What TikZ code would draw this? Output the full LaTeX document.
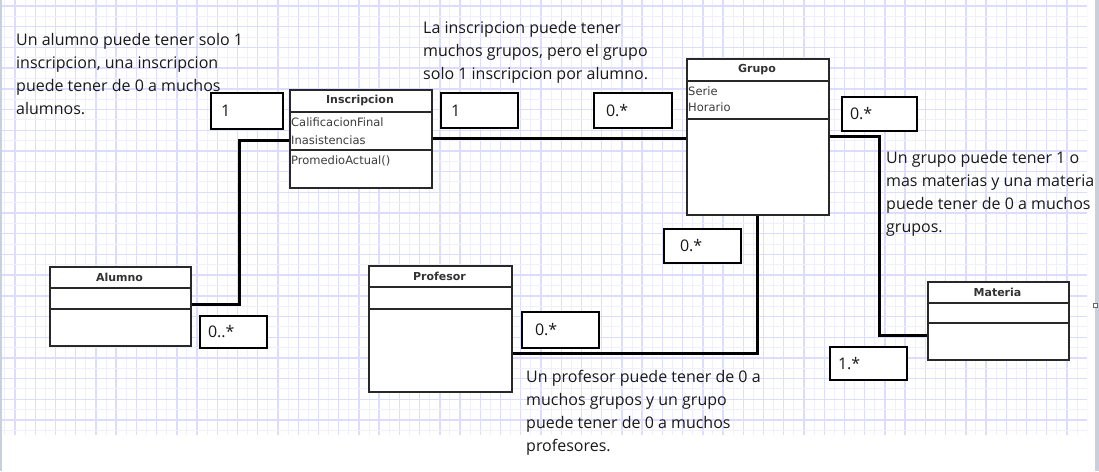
\documentclass[tikz,border=0pt]{standalone}
\usepackage{fontspec}
\setmainfont{Open Sans}
\newfontfamily\umlfont{DejaVu Sans}
\definecolor{gridmaj}{RGB}{220,220,255}
\definecolor{gridmin}{RGB}{239,239,255}
\definecolor{txt}{RGB}{25,25,25}
\definecolor{clsline}{RGB}{40,40,40}
\definecolor{attr}{RGB}{60,60,60}
\definecolor{barcol}{RGB}{200,208,222}
\tikzset{
  conn/.style={line width=3pt, draw=black},
  multbox/.style={draw=black, line width=2.2pt, fill=white, rectangle, inner ysep=0pt, align=left, font=\fontsize{16}{20}\selectfont, text=txt},
  classbox/.style={draw=clsline, line width=2pt, fill=white, rectangle, inner sep=0pt},
  sepline/.style={draw=clsline, line width=1.7pt},
  clsname/.style={font=\umlfont\bfseries\fontsize{11}{13}\selectfont, text=black!80, inner sep=0pt},
  attrtxt/.style={font=\umlfont\fontsize{11.5}{13}\selectfont, text=attr, inner sep=0pt, anchor=west},
  note/.style={font=\fontsize{16}{23}\selectfont, text=txt, align=left, inner sep=0pt, anchor=north west},
  gmaj/.style={draw=gridmaj, line width=1.4pt},
  gmin/.style={draw=gridmin, line width=1pt},
}
% class box: name, x1, y1, x2, y2, sep1, sep2, title
\newcommand\umlclass[8]{%
  \pgfmathsetmacro\cw{#4-#2}\pgfmathsetmacro\ch{#5-#3}%
  \node[classbox, minimum width=\cw pt, minimum height=\ch pt, anchor=north west] (#1) at (#2,#3) {};
  \draw[sepline] (#1.west |- 0,#6) -- (#1.east |- 0,#6);
  \draw[sepline] (#1.west |- 0,#7) -- (#1.east |- 0,#7);
  \node[clsname] (#1-t) at ({(#2+#4)/2},{(#3+#6)/2}) {#8};
}
% multiplicity box: name, x1, y1, x2, y2, pad, text
\newcommand\multbox[7]{%
  \pgfmathsetmacro\tw{#4-#2-2*#6}\pgfmathsetmacro\mh{#5-#3}%
  \node[multbox, text width=\tw pt, inner xsep=#6 pt, minimum height=\mh pt] (#1) at ({(#2+#4)/2},{(#3+#5)/2}) {#7};
}
\begin{document}
\begin{tikzpicture}[x=1pt,y=-1pt]
\useasboundingbox (0,0) rectangle (1099,471);
\fill[white] (0,0) rectangle (1099,471);
% grid
\begin{scope}
  \clip (0,0) rectangle (1087,435);
  \foreach \k in {-1,...,53} {
    \draw[gmin] ({25.1+20.23*\k},0) -- ++(0,435);
    \draw[gmaj] ({15+20.23*\k},0) -- ++(0,435);
  }
  \foreach \k in {-1,...,21} {
    \draw[gmin] (0,{16.35+20.7*\k}) -- ++(1087,0);
    \draw[gmaj] (0,{6+20.7*\k}) -- ++(1087,0);
  }
\end{scope}
\fill[barcol] (0,0) rectangle (1.5,471);
\fill[barcol] (1095,0) rectangle (1099,471);
\draw[black!60, fill=white, line width=0.8pt] (1093.5,303.5) rectangle (1097.5,307.5);
% notes
\node[note] (n1) at (16,32) {\rule{0pt}{13pt}Un alumno puede tener solo 1\\inscripcion, una inscripcion\\puede tener de 0 a muchos\\alumnos.};
\node[note] (n2) at (423,20) {\rule{0pt}{13pt}La inscripcion puede tener\\muchos grupos, pero el grupo\\solo 1 inscripcion por alumno.};
\node[note] (n3) at (886,150) {\rule{0pt}{13pt}Un grupo puede tener 1 o\\mas materias y una materia\\puede tener de 0 a muchos\\grupos.};
\node[note] (n4) at (526,369) {\rule{0pt}{13pt}Un profesor puede tener de 0 a\\muchos grupos y un grupo\\puede tener de 0 a muchos\\profesores.};
% bend points
\coordinate (c1) at (239,140);
\coordinate (c2) at (239,304);
\coordinate (c3) at (879,136);
\coordinate (c4) at (879,335);
\coordinate (c5) at (757,353);
% classes
\umlclass{insc}{289}{89}{431}{187}{112}{150}{Inscripcion}
\umlclass{grupo}{686}{58}{828}{214}{81}{119}{Grupo}
\umlclass{alumno}{49}{266}{190}{345}{288}{309}{Alumno}
\umlclass{prof}{368}{265}{511}{391}{287}{309}{Profesor}
\umlclass{materia}{927}{281}{1068}{359}{303}{323}{Materia}
% connectors
\draw[conn] (insc.west |- c1) -- (c1) -- (c2) -- (alumno.east |- c2);
\draw[conn] (insc.east |- 0,138) -- (grupo.west |- 0,138);
\draw[conn] (grupo.east |- c3) -- (c3) -- (c4) -- (materia.west |- c4);
\draw[conn] (grupo.south -| c5) -- (c5) -- (prof.east |- c5);
% attributes
\node[attrtxt] (insc-a1) at (291,122.5) {CalificacionFinal};
\node[attrtxt] (insc-a2) at (291,140) {Inasistencias};
\node[attrtxt] (insc-m1) at (291,160.5) {PromedioActual()};
\node[attrtxt] (grupo-a1) at (688,91.5) {Serie};
\node[attrtxt] (grupo-a2) at (688,107.5) {Horario};
% multiplicities
\multbox{mA}{211}{93}{283}{129}{10}{1}
\multbox{mB}{441}{93}{518}{128}{10}{1}
\multbox{mC}{594}{93}{672}{128}{12}{0.*}
\multbox{mD}{842}{97}{917}{131}{8}{0.*}
\multbox{mE}{664}{229}{741}{263}{16}{0.*}
\multbox{mF}{200}{316}{267}{348}{8}{0..*}
\multbox{mG}{522}{312}{599}{348}{13}{0.*}
\multbox{mH}{830}{347}{907}{380}{8}{1.*}
\end{tikzpicture}
\end{document}
